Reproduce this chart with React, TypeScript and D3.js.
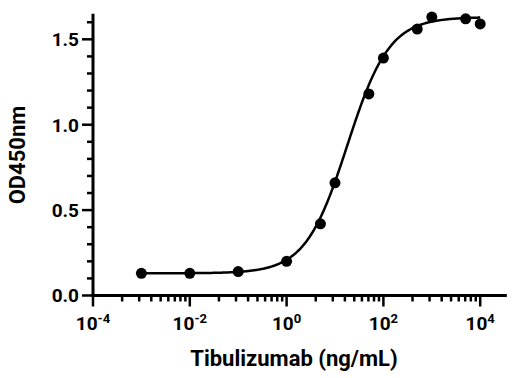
import React from "react";
import * as d3 from "d3";

// Data
const concentrations = [0.001, 0.01, 0.1, 1, 5, 10, 50, 100, 500, 1000, 5000, 10000];
const od450 = [0.13, 0.13, 0.14, 0.2, 0.42, 0.66, 1.18, 1.39, 1.56, 1.63, 1.62, 1.59];

// 4PL fit parameters (fitted curve)
const fitBottom = 0.13;
const fitTop = 1.63;
const fitEC50 = 18;
const fitHill = 1.0;

const yMajorTicks = [0, 0.5, 1.0, 1.5];
const yMinorTicks = [0.1, 0.2, 0.3, 0.4, 0.6, 0.7, 0.8, 0.9, 1.1, 1.2, 1.3, 1.4, 1.6];
const xMajorExponents = [-4, -2, 0, 2, 4];
const xMinorMultipliers = [4, 9, 16, 25, 36, 49, 64, 81];

const W = 520;
const H = 378;
const FONT = "Roboto, 'Open Sans', sans-serif";

export default function App() {
  const x = d3.scaleLog().domain([1e-4, Math.pow(10, 4.55)]).range([93, 93 + 8.55 * 48.4]);
  const y = d3.scaleLinear().domain([0, 1.65]).range([295.5, 13.7]);
  const x0 = 93;
  const y0 = 295.5;

  const fit = (c: number) => fitBottom + (fitTop - fitBottom) / (1 + Math.pow(fitEC50 / c, fitHill));
  const curveXs = d3.range(-3, 4.0001, 0.02).map((e) => Math.pow(10, e));
  const line = d3
    .line<number>()
    .x((c) => x(c))
    .y((c) => y(fit(c)))
    .curve(d3.curveLinear);

  const minorX: number[] = [];
  xMajorExponents.slice(0, -1).forEach((e) => {
    xMinorMultipliers.forEach((m) => minorX.push(Math.pow(10, e) * m));
  });

  return (
    <svg width={W} height={H} style={{ position: "absolute", left: 0, top: 0, background: "#fff" }}>
      {/* axes */}
      <line x1={x0} x2={x0} y1={y(1.65)} y2={y0 + 1.5} stroke="#000" strokeWidth={3} />
      <line x1={x0 - 1.5} x2={x.range()[1]} y1={y0} y2={y0} stroke="#000" strokeWidth={3} />
      {/* y ticks */}
      {yMinorTicks.map((v) => (
        <line key={"ym" + v} x1={x0 - 6} x2={x0} y1={y(v)} y2={y(v)} stroke="#000" strokeWidth={2.5} />
      ))}
      {yMajorTicks.map((v) => (
        <g key={"yM" + v}>
          <line x1={x0 - 11} x2={x0} y1={y(v)} y2={y(v)} stroke="#000" strokeWidth={2.5} />
          <text
            x={x0 - 14}
            y={y(v)}
            dy="0.36em"
            textAnchor="end"
            fontFamily={FONT}
            fontWeight={700}
            fontSize={19}
            fill="#000"
          >
            {v.toFixed(1)}
          </text>
        </g>
      ))}
      {/* x ticks */}
      {minorX.map((v, i) => (
        <line key={"xm" + i} x1={x(v)} x2={x(v)} y1={y0} y2={y0 + 6} stroke="#000" strokeWidth={2.5} />
      ))}
      {xMajorExponents.map((e) => (
        <g key={"xM" + e}>
          <line x1={x(Math.pow(10, e))} x2={x(Math.pow(10, e))} y1={y0} y2={y0 + 11} stroke="#000" strokeWidth={2.5} />
          <text
            x={x(Math.pow(10, e))}
            y={330}
            textAnchor="middle"
            fontFamily={FONT}
            fontWeight={700}
            fontSize={19}
            fill="#000"
          >
            10
            <tspan fontSize={13} dy={-7}>
              {e < 0 ? "-" + Math.abs(e) : String(e)}
            </tspan>
          </text>
        </g>
      ))}
      {/* fit curve */}
      <path d={line(curveXs) || ""} fill="none" stroke="#000" strokeWidth={2.5} />
      {/* points */}
      {concentrations.map((c, i) => (
        <circle key={"p" + i} cx={x(c)} cy={y(od450[i])} r={5.5} fill="#000" />
      ))}
      {/* axis titles */}
      <text x={294} y={366} textAnchor="middle" fontFamily={FONT} fontWeight={700} fontSize={22} fill="#000">
        Tibulizumab (ng/mL)
      </text>
      <text
        transform={`translate(25,155) rotate(-90)`}
        textAnchor="middle"
        fontFamily={FONT}
        fontWeight={700}
        fontSize={22}
        fill="#000"
      >
        OD450nm
      </text>
    </svg>
  );
}
